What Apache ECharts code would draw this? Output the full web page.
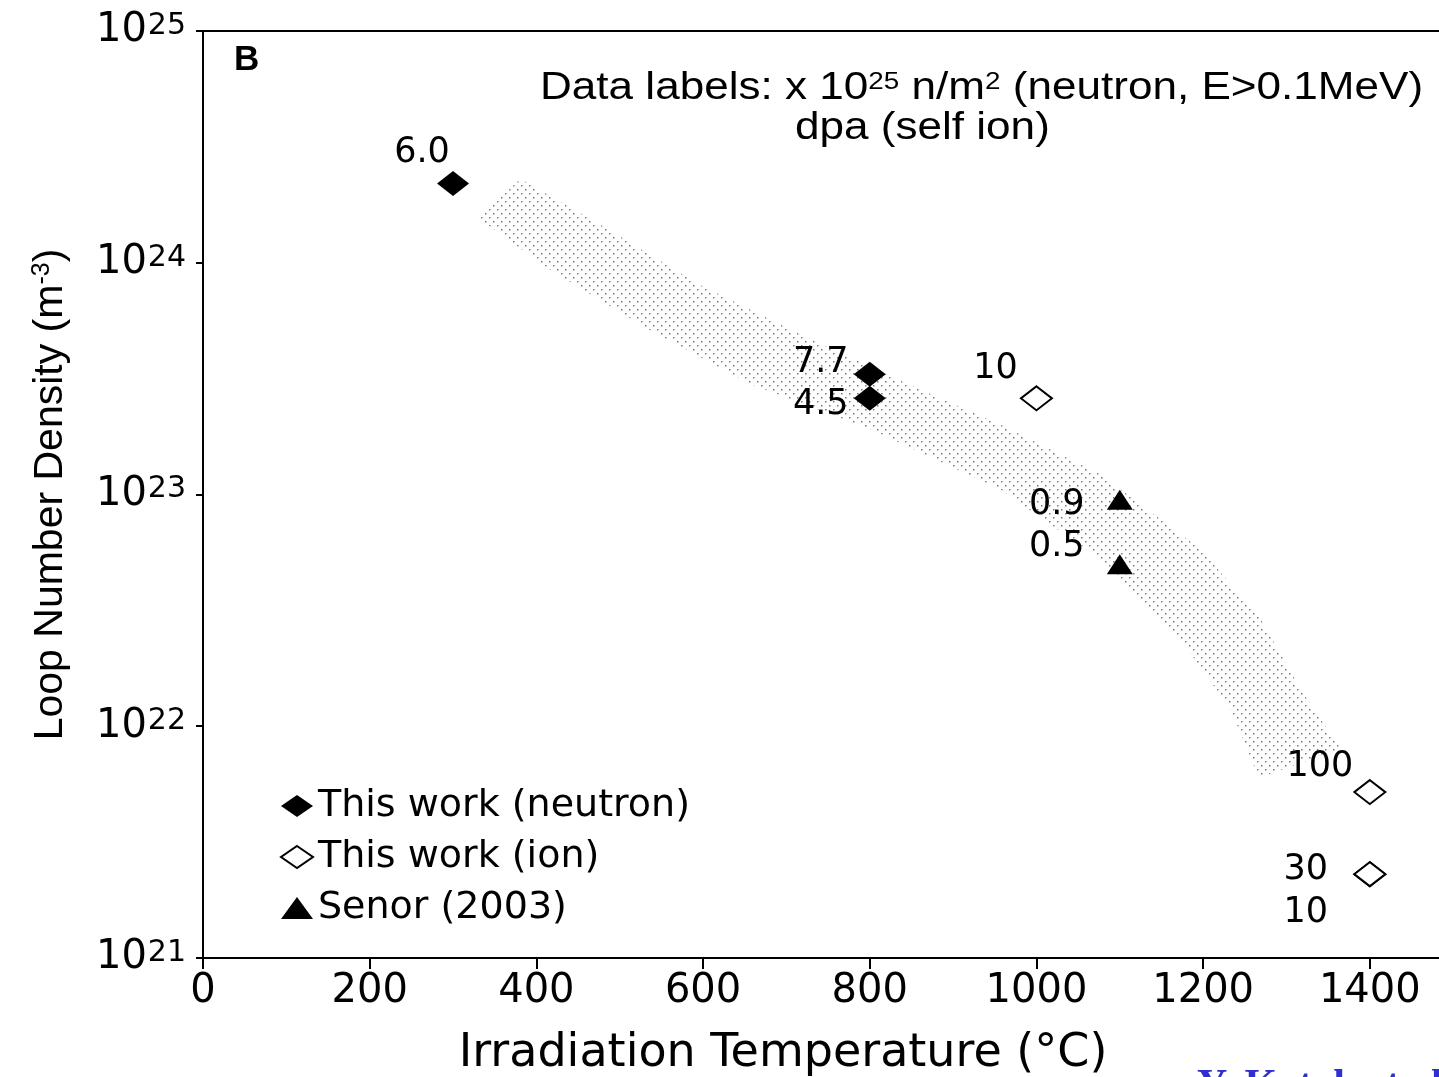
<!DOCTYPE html>
<html>
<head>
<meta charset="utf-8">
<style>
  html, body { margin: 0; padding: 0; background: #fff; }
  #chart { width: 1439px; height: 1077px; }
</style>
<script src="https://cdn.jsdelivr.net/npm/echarts@6/dist/echarts.min.js"></script>
</head>
<body>
<div id="chart"></div>
<script>
// values (temperature in °C, loop density in m^-3)
const neutronTemp = [300, 800, 800]
const neutronDensity = [2.2e24, 3.3e23, 2.6e23]
const neutronLabels = ['6.0', '7.7', '4.5']

const ionTemp = [1000, 1400, 1400, 1400]
const ionDensity = [2.6e23, 5.2e21, 2.3e21, 2.3e21]
const ionLabels = ['10', '100', '30', '10']

const senorTemp = [1100, 1100]
const senorDensity = [9.5e22, 5.0e22]
const senorLabels = ['0.9', '0.5']

// shaded trend band, upper edge left->right, lower edge right->left
const bandUpper = [[381, 2.3e24], [477, 1.46e24], [597, 8.0e23], [717, 4.9e23], [837, 3.1e23],
  [957, 2.0e23], [1077, 1.22e23], [1197, 5.8e22], [1269, 2.9e22], [1317, 1.44e22], [1365, 8.0e21]]
const bandLower = [[1267, 6.0e21], [1233, 1.18e22], [1173, 2.37e22], [1077, 5.25e22], [957, 1.05e23],
  [803, 1.9e23], [657, 3.0e23], [537, 5.1e23], [417, 9.3e23], [330, 1.56e24]]

const xTicks = [0, 200, 400, 600, 800, 1000, 1200, 1400]

// label offsets (px) from each marker centre
const neutronOffsets = [[-31, -30], [-49, -11], [-49, 7]]
const ionOffsets = [[-41, -29], [-50, -25], [-64, -4], [-64, 39]]
const senorOffsets = [[-63, 5], [-63, -17]]

const FONT = 'DejaVu Sans'

function dotPattern() {
  const c = document.createElement('canvas')
  c.width = 8
  c.height = 8
  const ctx = c.getContext('2d')
  ctx.fillStyle = '#777'
  ctx.fillRect(1, 1, 1.5, 1.5)
  ctx.fillRect(5, 5, 1.5, 1.5)
  return c
}

function points(xs, ys, labels, offsets) {
  return xs.map((x, i) => ({
    value: [x, ys[i]],
    label: { offset: offsets[i], formatter: labels[i] }
  }))
}

const pointLabel = {
  show: true,
  position: 'inside',
  color: '#000',
  fontFamily: FONT,
  fontSize: 35
}

const chart = echarts.init(document.getElementById('chart'))

chart.setOption({
  animation: false,
  backgroundColor: '#fff',
  grid: { left: 203, right: -50, top: 31, bottom: 119, outerBoundsMode: 'none', containLabel: false },
  xAxis: [{
    type: 'value',
    min: 0,
    max: 1543,
    interval: 200,
    name: 'Irradiation Temperature (°C)',
    nameLocation: 'middle',
    nameGap: 73,
    nameTextStyle: { fontFamily: FONT, fontSize: 46, color: '#000', padding: [0, 126, 0, 0] },
    axisLine: { lineStyle: { color: '#000', width: 2 } },
    axisTick: { length: 11, lineStyle: { color: '#000', width: 2 } },
    axisLabel: {
      margin: 14,
      color: '#000',
      fontFamily: FONT,
      fontSize: 40,
      formatter: v => xTicks.indexOf(v) >= 0 ? String(v) : ''
    },
    splitLine: { show: false }
  }, {
    type: 'value',
    position: 'top',
    min: 0,
    max: 1543,
    axisLine: { lineStyle: { color: '#000', width: 2 } },
    axisTick: { show: false },
    axisLabel: { show: false },
    splitLine: { show: false }
  }],
  yAxis: {
    type: 'log',
    logBase: 10,
    min: 1e21,
    max: 1e25,
    name: '{n|Loop Number Density (m}{s|-3}{n|)}',
    nameLocation: 'middle',
    nameGap: 132,
    nameRotate: 90,
    nameTextStyle: {
      rich: {
        n: { fontFamily: 'Liberation Sans', fontSize: 41, color: '#000' },
        s: { fontFamily: 'Liberation Sans', fontSize: 25, color: '#000', verticalAlign: 'top' }
      }
    },
    axisLine: { lineStyle: { color: '#000', width: 2 } },
    axisTick: { length: 7, lineStyle: { color: '#000', width: 2 } },
    minorTick: { show: false },
    splitLine: { show: false },
    axisLabel: {
      margin: 17,
      formatter: v => '{b|10}{s|' + Math.round(Math.log10(v)) + '}',
      rich: {
        b: { fontFamily: FONT, fontSize: 40, color: '#000' },
        s: { fontFamily: FONT, fontSize: 30, color: '#000', verticalAlign: 'top', padding: [0, 0, 0, 1] }
      }
    }
  },
  legend: {
    orient: 'vertical',
    left: 275,
    top: 780,
    itemWidth: 32,
    itemHeight: 22,
    itemGap: 9,
    data: ['This work (neutron)', 'This work (ion)', 'Senor (2003)'],
    textStyle: { fontFamily: FONT, fontSize: 38, lineHeight: 42, color: '#000' }
  },
  series: [{
    name: 'band',
    type: 'custom',
    silent: true,
    z: 1,
    data: [0],
    renderItem: (params, api) => {
      const pts = bandUpper.concat(bandLower).map(p => api.coord(p))
      return {
        type: 'polygon',
        shape: { points: pts },
        style: { fill: { image: dotPattern(), repeat: 'repeat' }, stroke: null }
      }
    }
  }, {
    name: 'This work (neutron)',
    type: 'scatter',
    symbol: 'diamond',
    symbolSize: [32, 25],
    z: 3,
    itemStyle: { color: '#000', opacity: 1 },
    label: pointLabel,
    data: points(neutronTemp, neutronDensity, neutronLabels, neutronOffsets)
  }, {
    name: 'This work (ion)',
    type: 'scatter',
    symbol: 'diamond',
    symbolSize: [31, 24],
    z: 3,
    itemStyle: { color: '#fff', borderColor: '#000', borderWidth: 2, opacity: 1 },
    label: pointLabel,
    data: points(ionTemp, ionDensity, ionLabels, ionOffsets)
  }, {
    name: 'Senor (2003)',
    type: 'scatter',
    symbol: 'triangle',
    symbolSize: [26, 20],
    z: 3,
    itemStyle: { color: '#000', opacity: 1 },
    label: pointLabel,
    data: points(senorTemp, senorDensity, senorLabels, senorOffsets)
  }],
  graphic: [{
    type: 'text',
    left: 234,
    top: 43,
    style: { text: 'B', font: 'bold 35px "Liberation Sans"', fill: '#000' }
  }, {
    type: 'text',
    x: 540,
    y: 70,
    scaleX: 1.16,
    style: {
      text: '{t|Data labels: x 10}{s|25}{t| n/m}{s|2}{t| (neutron, E>0.1MeV)}',
      rich: {
        t: { fontFamily: 'Liberation Sans', fontSize: 38, fill: '#000' },
        s: { fontFamily: 'Liberation Sans', fontSize: 24, fill: '#000', verticalAlign: 'top' }
      }
    }
  }, {
    type: 'text',
    x: 795,
    y: 110,
    scaleX: 1.16,
    style: { text: 'dpa (self ion)', font: '38px "Liberation Sans"', fill: '#000' }
  }, {
    type: 'text',
    left: 1197,
    top: 1066,
    style: { text: 'Y. Katoh et al.', font: 'bold 42px "Liberation Serif"', fill: '#2f2fd2' }
  }]
})
</script>
</body>
</html>
